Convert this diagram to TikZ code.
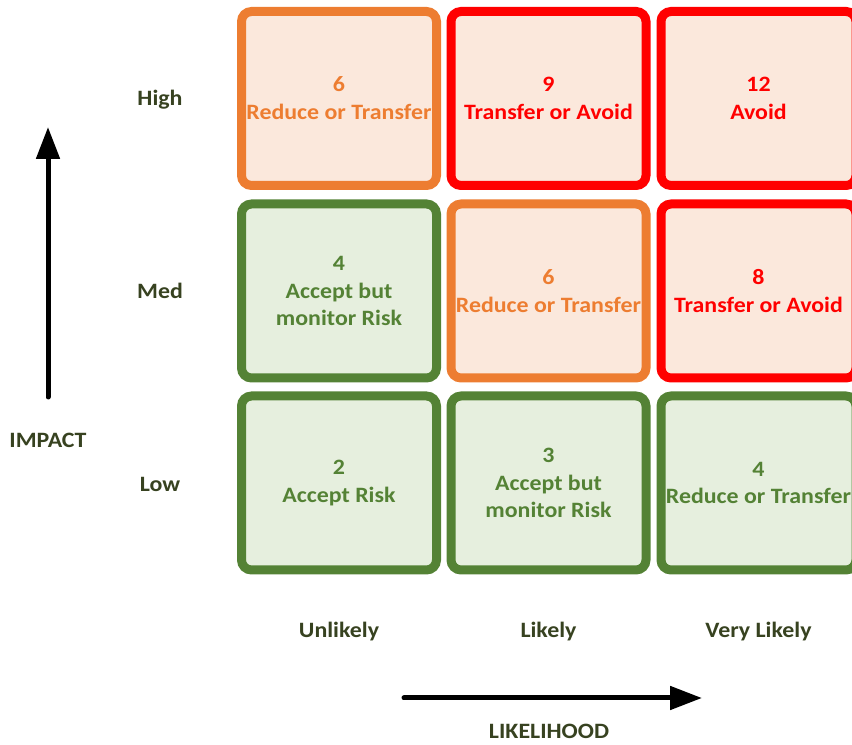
\documentclass[tikz,border=0pt]{standalone}
\usepackage{fontspec}
\setmainfont{Carlito}[FakeStretch=1.09]
\usetikzlibrary{arrows.meta}
\definecolor{grn}{RGB}{84,130,53}
\definecolor{grnfill}{RGB}{230,239,222}
\definecolor{org}{RGB}{237,125,49}
\definecolor{orgfill}{RGB}{251,232,220}
\definecolor{rd}{RGB}{255,0,0}
\definecolor{lbl}{RGB}{55,66,32}
\begin{document}
\begin{tikzpicture}[x=1bp,y=1bp,
    cell/.style={draw,line width=9bp,rounded corners=10bp,minimum width=195bp,minimum height=174bp,
      align=center,font=\fontsize{22}{28}\selectfont\bfseries,inner sep=0pt},
    low/.style={cell,draw=grn,fill=grnfill,text=grn},
    mid/.style={cell,draw=org,fill=orgfill,text=org},
    hig/.style={cell,draw=rd,fill=orgfill,text=rd},
    axlabel/.style={font=\fontsize{22}{26}\selectfont\bfseries,text=lbl},
    axarrow/.style={line width=5bp,line cap=round,-{Triangle[length=32bp,width=23bp]}}]
			\useasboundingbox (0,0) rectangle (852,745);
			
			% cells
			\node[mid] (c13) at (339,646.5) {6\\Reduce or Transfer};
			\node[hig] (c23) at (548.5,646.5) {9\\Transfer or Avoid};
			\node[hig] (c33) at (758.5,646.5) {12\\Avoid};
			\node[low] (c12) at (339,454) {4\\Accept but\\monitor Risk};
			\node[mid] (c22) at (548.5,454) {6\\Reduce or Transfer};
			\node[hig] (c32) at (758.5,454) {8\\Transfer or Avoid};
			\node[low] (c11) at (339,262) {2\\Accept Risk};
			\node[low] (c21) at (548.5,262) {3\\Accept but\\monitor Risk};
			\node[low] (c31) at (758.5,262) {4\\Reduce or Transfer};
			
			% labels
			\foreach \y/\t in {645/High,454/Med,261/Low}
			\node[axlabel] (row\t) at (160,\y) {\t};
			\foreach \x/\t/\n in {339/Unlikely/u,548.5/Likely/l,758.5/Very Likely/v}
			\node[axlabel] (col\n) at (\x,113) {\t};
			
			\node[axlabel] (impact) at (48,305) {IMPACT};
			\node[axlabel] (likelihood) at (549,14) {LIKELIHOOD};
			
			\coordinate (ibot) at (48,348);
			\coordinate (itop) at (48,618);
			\coordinate (lleft) at (404,47);
			\coordinate (lright) at (702,47);
			\draw[axarrow] (ibot) -- (itop);
			\draw[axarrow] (lleft) -- (lright);
\end{tikzpicture}
\end{document}
